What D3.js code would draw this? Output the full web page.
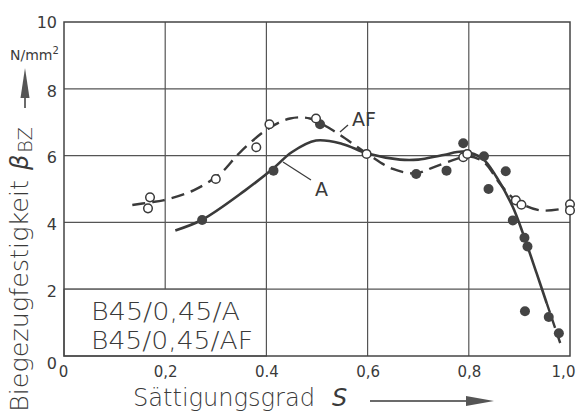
<!DOCTYPE html>
<html><head><meta charset="utf-8">
<script src="https://cdn.jsdelivr.net/npm/d3@7"></script>
<style>
html,body{margin:0;padding:0;background:#fff;}
text{font-family:"DejaVu Sans","Liberation Sans",sans-serif;fill:#3a3a3a;}
</style></head>
<body><svg id="c" width="578" height="413"></svg>
<script>
// ---- data ----
const xTicks = [0, 0.2, 0.4, 0.6, 0.8, 1.0];
const xTickLabels = ["0", "0,2", "0.4", "0,6", "0,8", "1,0"];
const yTicks = [0, 2, 4, 6, 8, 10];
const yTickLabels = ["0", "2", "4", "6", "8", "10"];

// measured points, series A (filled)
const pointsA_S = [0.273, 0.414, 0.506, 0.696, 0.756, 0.789, 0.830, 0.873, 0.839, 0.887, 0.910, 0.916, 0.911, 0.958, 0.978];
const pointsA_B = [4.07, 5.55, 6.94, 5.45, 5.55, 6.37, 5.98, 5.53, 5.00, 4.06, 3.54, 3.28, 1.34, 1.17, 0.68];
// measured points, series AF (open)
const pointsAF_S = [0.170, 0.166, 0.300, 0.380, 0.406, 0.498, 0.598, 0.789, 0.797, 0.893, 0.904, 1.000, 1.000];
const pointsAF_B = [4.75, 4.42, 5.30, 6.25, 6.94, 7.11, 6.05, 5.95, 6.05, 4.66, 4.53, 4.54, 4.36];

// fitted curve A (solid, dashed tail)
const curveA_S = [0.220, 0.273, 0.358, 0.414, 0.450, 0.498, 0.550, 0.600, 0.664, 0.700, 0.750, 0.790, 0.828, 0.855, 0.887, 0.907, 0.934, 0.954];
const curveA_B = [3.76, 4.08, 4.96, 5.62, 6.10, 6.45, 6.35, 6.06, 5.88, 5.88, 6.02, 6.12, 5.90, 5.35, 4.46, 3.67, 2.48, 1.58];
const tailA_S = [0.954, 0.984];
const tailA_B = [1.58, 0.24];
// fitted curve AF (dashed)
const curveAF_S = [0.135, 0.170, 0.196, 0.256, 0.308, 0.348, 0.403, 0.447, 0.486, 0.532, 0.600, 0.650, 0.696, 0.730, 0.776, 0.800, 0.830, 0.862, 0.893, 0.941, 1.000];
const curveAF_B = [4.52, 4.60, 4.66, 4.96, 5.45, 6.10, 6.80, 7.11, 7.11, 6.75, 6.05, 5.60, 5.47, 5.65, 5.90, 5.98, 5.80, 5.15, 4.66, 4.36, 4.45];

const legendLines = ["B45/0,45/A", "B45/0,45/AF"];

// ---- drawing ----
const svg = d3.select("#c");
const ink = "#3a3a3a";
const x = d3.scaleLinear().domain([0, 1]).range([64, 570]);
const y = d3.scaleLinear().domain([0, 10]).range([356, 22]);

// grid
const g = svg.append("g");
g.selectAll("line.vx").data(xTicks.slice(1, -1)).enter().append("line")
  .attr("x1", d => x(d)).attr("x2", d => x(d)).attr("y1", y(10)).attr("y2", y(0))
  .attr("stroke", "#555").attr("stroke-width", 1.2);
g.selectAll("line.hy").data(yTicks.slice(1, -1)).enter().append("line")
  .attr("x1", x(0)).attr("x2", x(1)).attr("y1", d => y(d)).attr("y2", d => y(d))
  .attr("stroke", "#555").attr("stroke-width", 1.2);

// legend box (covers grid)
svg.append("rect").attr("x", x(0)).attr("y", y(2)).attr("width", x(0.4) - x(0)).attr("height", y(0) - y(2))
  .attr("fill", "#fff").attr("stroke", "#555").attr("stroke-width", 1.2);
svg.selectAll("text.leg").data(legendLines).enter().append("text")
  .attr("x", 91).attr("y", (d, i) => 320 + i * 28.5)
  .attr("font-size", 25).attr("font-weight", 300)
  .attr("textLength", (d, i) => i === 0 ? 149 : 162).attr("lengthAdjust", "spacingAndGlyphs")
  .text(d => d);

// frame
svg.append("rect").attr("x", x(0)).attr("y", y(10)).attr("width", x(1) - x(0)).attr("height", y(0) - y(10))
  .attr("fill", "none").attr("stroke", "#444").attr("stroke-width", 1.5);

// axes tick labels
const xa = d3.axisBottom(x).tickValues(xTicks).tickFormat((d, i) => xTickLabels[i]).tickSize(0).tickPadding(10);
const xg = svg.append("g").attr("transform", `translate(0,${y(0)})`).call(xa);
xg.select(".domain").remove();
xg.selectAll("text").attr("font-size", 15).attr("fill", ink).attr("font-family", "DejaVu Sans, sans-serif")
  .attr("dx", (d, i) => i === 0 ? -1 : (i === xTicks.length - 1 ? -7 : 0));
const ya = d3.axisLeft(y).tickValues(yTicks).tickFormat((d, i) => yTickLabels[i]).tickSize(0).tickPadding(7);
const yg = svg.append("g").attr("transform", `translate(${x(0)},0)`).call(ya);
yg.select(".domain").remove();
yg.selectAll("text").attr("font-size", 16).attr("fill", ink).attr("font-family", "DejaVu Sans, sans-serif")
  .attr("dy", (d) => d === 0 ? "0.75em" : (d === 10 ? "0.32em" : "0.45em"));

// curves
const line = d3.line().x(d => x(d[0])).y(d => y(d[1])).curve(d3.curveCatmullRom.alpha(0.5));
const zip = (a, b) => a.map((v, i) => [v, b[i]]);
svg.append("path").attr("d", line(zip(curveAF_S, curveAF_B))).attr("fill", "none")
  .attr("stroke", ink).attr("stroke-width", 2.4).attr("stroke-dasharray", "13,7");
svg.append("path").attr("d", line(zip(curveA_S, curveA_B))).attr("fill", "none")
  .attr("stroke", ink).attr("stroke-width", 2.6);
svg.append("path").attr("d", d3.line().x(d => x(d[0])).y(d => y(d[1]))(zip(tailA_S, tailA_B))).attr("fill", "none")
  .attr("stroke", ink).attr("stroke-width", 2.4).attr("stroke-dasharray", "10,6");

// points
svg.selectAll("circle.a").data(zip(pointsA_S, pointsA_B)).enter().append("circle")
  .attr("cx", d => x(d[0])).attr("cy", d => y(d[1])).attr("r", 5).attr("fill", "#444");
svg.selectAll("circle.af").data(zip(pointsAF_S, pointsAF_B)).enter().append("circle")
  .attr("cx", d => x(d[0])).attr("cy", d => y(d[1])).attr("r", 4.3).attr("fill", "#fff")
  .attr("stroke", ink).attr("stroke-width", 1.5);

// curve labels
svg.append("text").attr("x", 352).attr("y", 126).attr("font-size", 19).text("AF");
svg.append("line").attr("x1", 340).attr("y1", 132).attr("x2", 348).attr("y2", 125).attr("stroke", ink).attr("stroke-width", 1.3);
svg.append("text").attr("x", 315).attr("y", 196).attr("font-size", 19).text("A");
svg.append("line").attr("x1", 283).attr("y1", 162).attr("x2", 311).attr("y2", 180).attr("stroke", ink).attr("stroke-width", 1.2);

// x axis title
svg.append("text").attr("x", 133).attr("y", 406).attr("font-size", 24).attr("font-weight", 300)
  .attr("textLength", 182).attr("lengthAdjust", "spacingAndGlyphs").text("Sättigungsgrad");
svg.append("text").attr("x", 332).attr("y", 406).attr("font-size", 24).attr("font-style", "italic").text("S");
svg.append("line").attr("x1", 370).attr("y1", 401).attr("x2", 470).attr("y2", 401).attr("stroke", ink).attr("stroke-width", 1.5);
svg.append("path").attr("d", "M466,396 L494,401 L466,406 Z").attr("fill", "#555");

// y axis title
const yt = svg.append("text").attr("transform", "translate(28,412) rotate(-90)").attr("font-size", 24).attr("font-weight", 300);
yt.append("tspan").attr("textLength", 232).attr("lengthAdjust", "spacingAndGlyphs").text("Biegezugfestigkeit");
yt.append("tspan").attr("dx", 10).attr("font-style", "italic").text("β");
yt.append("tspan").attr("font-size", 19).attr("dy", 4).attr("dx", 2).text("BZ");
// unit and arrow
svg.append("line").attr("x1", 25).attr("y1", 108).attr("x2", 25).attr("y2", 90).attr("stroke", ink).attr("stroke-width", 1.5);
svg.append("path").attr("d", "M20.5,98 L25,68 L29.5,98 Z").attr("fill", "#555");
const un = svg.append("text").attr("x", 10).attr("y", 60).attr("font-size", 14);
un.append("tspan").text("N/mm");
un.append("tspan").attr("font-size", 10).attr("dy", -6).text("2");
</script></body></html>
